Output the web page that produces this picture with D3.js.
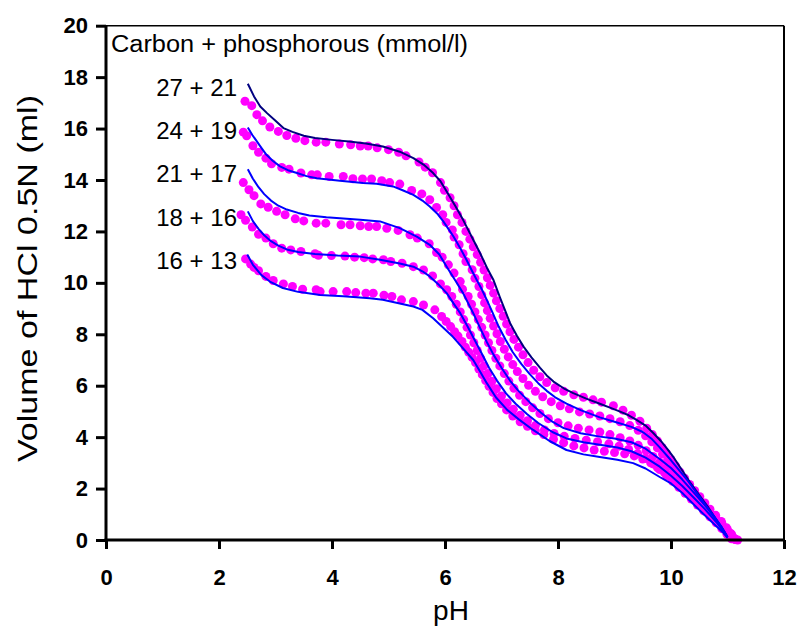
<!DOCTYPE html>
<html>
<head>
<meta charset="utf-8">
<script src="https://cdn.jsdelivr.net/npm/d3@7"></script>
<style>
  html, body { margin: 0; padding: 0; background: #ffffff; }
  svg { display: block; }
  text { font-family: "Liberation Sans", Arial, sans-serif; }
</style>
</head>
<body>
<svg id="chart" width="800" height="626"></svg>
<script>
// ---------- data ----------
const xTicks = [0, 2, 4, 6, 8, 10, 12];
const yTicks = [0, 2, 4, 6, 8, 10, 12, 14, 16, 18, 20];
const xTitle = "pH";
const yTitle = "Volume of HCl 0.5N (ml)";
const legendTitle = "Carbon + phosphorous (mmol/l)";
const seriesLabels = ["27 + 21", "24 + 19", "21 + 17", "18 + 16", "16 + 13"];

// model (solid lines): [pH, volume]
const lineA = [[2.51,17.74],[2.62,17.25],[2.73,16.86],[2.85,16.6],[3.0,16.3],[3.14,16.02],[3.3,15.87],[3.5,15.72],[3.7,15.63],[4.0,15.56],[4.3,15.5],[4.6,15.42],[4.9,15.3],[5.2,15.1],[5.44,14.85],[5.62,14.6],[5.79,14.27],[5.92,13.95],[6.03,13.55],[6.18,13.0],[6.32,12.45],[6.47,11.8],[6.62,11.16],[6.74,10.6],[6.86,10.1],[6.97,9.45],[7.06,8.95],[7.15,8.44],[7.27,7.95],[7.39,7.52],[7.53,7.1],[7.68,6.7],[7.8,6.4],[7.92,6.16],[8.1,5.9],[8.27,5.71],[8.5,5.5],[8.74,5.3],[8.92,5.15],[9.1,4.99],[9.25,4.85],[9.39,4.67],[9.55,4.45],[9.69,4.15],[9.82,3.85],[9.93,3.55],[10.05,3.2],[10.2,2.7],[10.35,2.2],[10.5,1.75],[10.65,1.3],[10.8,0.8],[10.92,0.4],[11.0,0.12]];
const lineB = [[2.51,16.04],[2.59,15.75],[2.67,15.5],[2.75,15.25],[2.84,14.98],[2.95,14.75],[3.08,14.53],[3.22,14.38],[3.38,14.27],[3.55,14.15],[3.73,14.07],[4.14,13.97],[4.55,13.88],[4.79,13.85],[5.08,13.75],[5.25,13.6],[5.44,13.42],[5.6,13.2],[5.73,12.97],[5.86,12.7],[5.97,12.39],[6.06,12.1],[6.15,11.8],[6.27,11.35],[6.38,10.9],[6.47,10.5],[6.56,10.12],[6.65,9.75],[6.74,9.34],[6.84,8.85],[6.95,8.3],[7.07,7.8],[7.2,7.3],[7.35,6.85],[7.5,6.45],[7.65,6.1],[7.8,5.8],[7.95,5.55],[8.15,5.3],[8.4,5.05],[8.74,4.77],[9.0,4.6],[9.3,4.4],[9.5,4.2],[9.65,3.95],[9.8,3.6],[10.0,3.1],[10.15,2.7],[10.3,2.3],[10.5,1.7],[10.7,1.1],[10.9,0.5],[11.0,0.12]];
const lineC = [[2.51,14.42],[2.6,14.05],[2.7,13.72],[2.8,13.45],[2.92,13.2],[3.05,13.0],[3.2,12.85],[3.4,12.72],[3.6,12.62],[3.9,12.55],[4.2,12.5],[4.5,12.45],[4.85,12.39],[5.2,12.13],[5.5,11.8],[5.73,11.48],[5.9,11.1],[6.03,10.63],[6.18,10.1],[6.32,9.6],[6.5,8.82],[6.62,8.25],[6.74,7.7],[6.86,7.2],[7.0,6.7],[7.15,6.2],[7.3,5.8],[7.5,5.35],[7.7,4.95],[7.9,4.6],[8.1,4.35],[8.4,4.15],[8.74,4.02],[9.0,3.95],[9.3,3.8],[9.55,3.55],[9.8,3.15],[10.0,2.8],[10.2,2.35],[10.4,1.85],[10.6,1.35],[10.8,0.8],[10.95,0.3],[11.0,0.12]];
const lineD = [[2.51,12.78],[2.6,12.4],[2.7,12.1],[2.8,11.85],[2.92,11.62],[3.05,11.45],[3.2,11.3],[3.4,11.2],[3.7,11.12],[4.1,11.06],[4.5,11.02],[4.85,10.9],[5.2,10.75],[5.44,10.63],[5.6,10.45],[5.73,10.25],[5.88,9.95],[6.03,9.6],[6.15,9.2],[6.27,8.82],[6.4,8.3],[6.52,7.8],[6.65,7.25],[6.78,6.7],[6.92,6.2],[7.08,5.7],[7.25,5.3],[7.45,4.9],[7.65,4.55],[7.9,4.2],[8.15,3.95],[8.45,3.8],[8.74,3.7],[9.05,3.6],[9.3,3.45],[9.55,3.2],[9.8,2.85],[10.0,2.5],[10.2,2.1],[10.4,1.65],[10.6,1.2],[10.8,0.7],[10.95,0.28],[11.0,0.1]];
const lineE = [[2.5,11.1],[2.6,10.7],[2.75,10.3],[2.9,10.05],[3.13,9.8],[3.4,9.65],[3.79,9.53],[4.2,9.48],[4.67,9.4],[4.9,9.34],[5.2,9.2],[5.44,9.08],[5.6,8.95],[5.79,8.62],[5.97,8.25],[6.14,7.9],[6.32,7.45],[6.5,7.0],[6.62,6.55],[6.74,6.1],[6.9,5.55],[7.1,5.06],[7.3,4.7],[7.56,4.28],[7.85,3.85],[8.15,3.5],[8.45,3.33],[8.74,3.23],[9.05,3.12],[9.33,2.99],[9.55,2.78],[9.8,2.45],[10.0,2.2],[10.2,1.83],[10.35,1.5],[10.5,1.17],[10.7,0.75],[10.93,0.27],[11.0,0.08]];

// measured (dots): [pH, volume]
const dotsA = [[2.46,17.06],[2.58,16.89],[2.67,16.54],[2.77,16.3],[2.9,16.06],[3.05,15.89],[3.2,15.73],[3.36,15.62],[3.52,15.53],[3.72,15.47],[3.89,15.47],[4.13,15.4],[4.33,15.37],[4.5,15.32],[4.64,15.32],[4.8,15.25],[5.0,15.18],[5.18,15.08],[5.31,14.94],[5.54,14.7],[5.65,14.5],[5.78,14.28],[5.92,13.9],[5.99,13.6],[6.09,13.31],[6.16,13.0],[6.22,12.65],[6.3,12.35],[6.37,12.0],[6.44,11.7],[6.5,11.4],[6.57,11.1],[6.63,10.8],[6.69,10.5],[6.75,10.2],[6.8,9.9],[6.86,9.6],[6.91,9.3],[6.97,9.0],[7.03,8.7],[7.09,8.4],[7.15,8.1],[7.22,7.8],[7.3,7.5],[7.38,7.2],[7.47,6.9],[7.57,6.6],[7.68,6.35],[7.8,6.12],[7.95,5.92],[8.1,5.78],[8.28,5.65],[8.45,5.55],[8.62,5.45],[8.77,5.36],[8.98,5.22],[9.15,5.05],[9.3,4.85],[9.45,4.62],[9.57,4.35],[9.67,4.1],[9.76,3.85],[9.84,3.6],[9.92,3.37],[10.0,3.12],[10.08,2.88],[10.16,2.64],[10.24,2.4],[10.33,2.16],[10.42,1.92],[10.51,1.68],[10.6,1.44],[10.69,1.2],[10.79,0.96],[10.89,0.72],[10.98,0.48],[11.06,0.25],[11.12,0.06],[11.18,0.0]];
const dotsB = [[2.43,15.86],[2.49,15.72],[2.6,15.33],[2.7,15.08],[2.83,14.85],[2.93,14.63],[3.11,14.49],[3.24,14.42],[3.45,14.27],[3.64,14.2],[3.74,14.2],[3.95,14.14],[4.2,14.14],[4.37,14.05],[4.54,14.04],[4.7,14.04],[4.88,13.97],[5.02,13.9],[5.2,13.84],[5.41,13.59],[5.59,13.46],[5.73,13.23],[5.85,12.93],[5.96,12.65],[6.02,12.35],[6.13,12.06],[6.16,11.78],[6.25,11.48],[6.32,11.13],[6.37,10.83],[6.48,10.51],[6.53,10.18],[6.6,9.86],[6.65,9.53],[6.7,9.22],[6.75,8.92],[6.8,8.62],[6.86,8.32],[6.92,8.02],[6.98,7.72],[7.05,7.42],[7.12,7.12],[7.2,6.82],[7.28,6.55],[7.38,6.28],[7.48,6.02],[7.6,5.78],[7.73,5.57],[7.88,5.38],[8.04,5.22],[8.2,5.1],[8.38,4.98],[8.56,4.9],[8.74,4.82],[8.92,4.72],[9.1,4.6],[9.27,4.45],[9.42,4.27],[9.55,4.05],[9.66,3.82],[9.76,3.58],[9.85,3.34],[9.94,3.1],[10.03,2.86],[10.12,2.62],[10.21,2.38],[10.3,2.14],[10.4,1.9],[10.49,1.66],[10.58,1.42],[10.68,1.18],[10.78,0.94],[10.88,0.7],[10.97,0.46],[11.05,0.24],[11.12,0.05]];
const dotsC = [[2.43,13.9],[2.53,13.62],[2.62,13.39],[2.74,13.07],[2.87,12.94],[3.02,12.78],[3.17,12.65],[3.35,12.49],[3.5,12.41],[3.72,12.32],[3.89,12.32],[4.16,12.26],[4.32,12.26],[4.5,12.22],[4.65,12.19],[4.79,12.19],[4.97,12.12],[5.17,12.04],[5.38,11.87],[5.51,11.74],[5.72,11.52],[5.85,11.18],[5.95,11.0],[6.06,10.7],[6.16,10.38],[6.27,10.05],[6.31,9.75],[6.41,9.47],[6.47,9.17],[6.53,8.87],[6.59,8.57],[6.65,8.27],[6.71,7.97],[6.77,7.67],[6.83,7.37],[6.9,7.07],[6.97,6.77],[7.05,6.47],[7.13,6.18],[7.22,5.9],[7.32,5.63],[7.43,5.38],[7.55,5.14],[7.68,4.92],[7.83,4.72],[8.0,4.56],[8.18,4.44],[8.36,4.35],[8.55,4.28],[8.74,4.2],[8.92,4.1],[9.1,3.98],[9.27,3.85],[9.42,3.68],[9.56,3.47],[9.68,3.25],[9.8,3.02],[9.91,2.8],[10.02,2.57],[10.13,2.33],[10.24,2.1],[10.35,1.86],[10.46,1.62],[10.57,1.38],[10.68,1.14],[10.79,0.9],[10.9,0.65],[11.0,0.4],[11.08,0.17],[11.14,0.02]];
const dotsD = [[2.39,12.65],[2.47,12.43],[2.59,12.17],[2.7,11.89],[2.83,11.74],[2.96,11.52],[3.11,11.35],[3.27,11.28],[3.45,11.22],[3.7,11.13],[3.76,11.07],[3.99,11.06],[4.23,11.04],[4.4,11.0],[4.57,10.98],[4.72,10.93],[4.91,10.9],[5.04,10.83],[5.24,10.76],[5.44,10.63],[5.62,10.5],[5.78,10.27],[5.92,9.96],[6.03,9.73],[6.12,9.47],[6.2,9.17],[6.27,8.87],[6.33,8.57],[6.39,8.27],[6.45,7.97],[6.51,7.67],[6.57,7.37],[6.63,7.07],[6.69,6.77],[6.76,6.47],[6.83,6.17],[6.91,5.88],[7.0,5.6],[7.1,5.33],[7.21,5.08],[7.33,4.85],[7.46,4.64],[7.6,4.45],[7.76,4.28],[7.93,4.14],[8.11,4.03],[8.3,3.95],[8.5,3.88],[8.7,3.82],[8.9,3.74],[9.08,3.65],[9.25,3.52],[9.41,3.36],[9.55,3.17],[9.68,2.96],[9.8,2.74],[9.92,2.51],[10.03,2.28],[10.14,2.05],[10.25,1.82],[10.36,1.59],[10.47,1.36],[10.58,1.13],[10.69,0.9],[10.8,0.67],[10.9,0.44],[10.99,0.22],[11.07,0.05]];
const dotsE = [[2.47,10.93],[2.56,10.73],[2.62,10.6],[2.7,10.47],[2.83,10.25],[2.96,10.09],[3.14,9.96],[3.3,9.86],[3.48,9.75],[3.72,9.73],[3.79,9.66],[4.02,9.66],[4.26,9.66],[4.42,9.62],[4.6,9.6],[4.73,9.6],[4.92,9.52],[5.06,9.47],[5.23,9.34],[5.44,9.27],[5.62,9.14],[5.82,8.95],[5.94,8.69],[6.02,8.5],[6.1,8.3],[6.17,8.1],[6.23,7.93],[6.3,7.72],[6.36,7.5],[6.42,7.3],[6.48,7.1],[6.54,6.9],[6.6,6.65],[6.66,6.43],[6.72,6.2],[6.78,5.98],[6.85,5.74],[6.92,5.5],[7.0,5.3],[7.09,5.06],[7.2,4.82],[7.33,4.6],[7.46,4.42],[7.6,4.25],[7.75,4.1],[7.92,3.92],[8.1,3.78],[8.28,3.66],[8.46,3.58],[8.64,3.5],[8.82,3.45],[9.0,3.4],[9.18,3.35],[9.35,3.27],[9.5,3.15],[9.64,3.0],[9.76,2.82],[9.88,2.63],[10.0,2.43],[10.11,2.22],[10.22,2.0],[10.33,1.78],[10.44,1.56],[10.55,1.34],[10.66,1.12],[10.77,0.89],[10.88,0.66],[10.98,0.43],[11.07,0.22],[11.13,0.03]];

const lines = [lineA, lineB, lineC, lineD, lineE];
const dots = [dotsA, dotsB, dotsC, dotsD, dotsE];
const lineColors = ["#000080", "#0000ff", "#0000ff", "#0000ff", "#0000ff"];
const dotColor = "#ff00ff";

// ---------- layout ----------
const svg = d3.select("#chart");
const plotLeft = 106, plotRight = 784, plotTop = 25.7, plotBottom = 540;

const x = d3.scaleLinear().domain([0, 12]).range([plotLeft, plotRight]);
const y = d3.scaleLinear().domain([0, 20]).range([plotBottom, plotTop]);

svg.append("rect").attr("width", 800).attr("height", 626).attr("fill", "#ffffff");

// frame (top & right)
svg.append("line").attr("x1", plotLeft).attr("x2", plotRight).attr("y1", plotTop).attr("y2", plotTop)
  .attr("stroke", "#000").attr("stroke-width", 1.5);
svg.append("line").attr("x1", plotRight).attr("x2", plotRight).attr("y1", plotTop).attr("y2", plotBottom)
  .attr("stroke", "#000").attr("stroke-width", 2);

// dots
dots.forEach(ds => {
  svg.append("g").selectAll("circle").data(ds).join("circle")
    .attr("cx", d => x(d[0])).attr("cy", d => y(d[1])).attr("r", 4.5)
    .attr("fill", dotColor);
});

// lines
const lineGen = d3.line().x(d => x(d[0])).y(d => y(d[1]));
lines.forEach((ls, i) => {
  svg.append("path").datum(ls).attr("d", lineGen)
    .attr("fill", "none").attr("stroke", lineColors[i]).attr("stroke-width", 2)
    .attr("stroke-linejoin", "round");
});

// axes
const xAxis = svg.append("g").attr("transform", `translate(0,${plotBottom})`)
  .call(d3.axisBottom(x).tickValues(xTicks).tickFormat(d3.format("d")).tickSize(9).tickSizeOuter(0).tickPadding(20));
const yAxis = svg.append("g").attr("transform", `translate(${plotLeft},0)`)
  .call(d3.axisLeft(y).tickValues(yTicks).tickFormat(d3.format("d")).tickSize(10).tickSizeOuter(0).tickPadding(8));

[xAxis, yAxis].forEach(g => {
  g.select(".domain").attr("stroke", "#000").attr("stroke-width", 3);
  g.selectAll(".tick line").attr("stroke", "#000").attr("stroke-width", 3);
  g.selectAll(".tick text").attr("fill", "#000")
    .style("font-family", '"Liberation Sans", Arial, sans-serif')
    .style("font-size", "22px").style("font-weight", "bold");
});
xAxis.select(".domain").attr("d", `M${plotLeft - 1.5},0H${plotRight + 1}`);
yAxis.select(".domain").attr("d", `M0,${plotBottom + 1.5}V${plotTop}`);

// axis titles
svg.append("text").attr("x", 451).attr("y", 620).attr("text-anchor", "middle")
  .style("font-size", "28px").attr("fill", "#000").text(xTitle);
svg.append("text").attr("transform", `translate(37,${(95 + 462) / 2}) rotate(-90)`)
  .attr("text-anchor", "middle").style("font-size", "28px").attr("fill", "#000")
  .attr("textLength", 367).attr("lengthAdjust", "spacingAndGlyphs").text(yTitle);

// legend title and series labels
svg.append("text").attr("x", 111).attr("y", 52).style("font-size", "23px").attr("fill", "#000")
  .attr("textLength", 357).attr("lengthAdjust", "spacingAndGlyphs").text(legendTitle);
const labelBaselines = [96, 139, 182, 226, 269];
svg.append("g").selectAll("text").data(seriesLabels).join("text")
  .attr("x", 237).attr("y", (d, i) => labelBaselines[i]).attr("text-anchor", "end")
  .style("font-size", "24px").attr("fill", "#000").text(d => d);
</script>
</body>
</html>
